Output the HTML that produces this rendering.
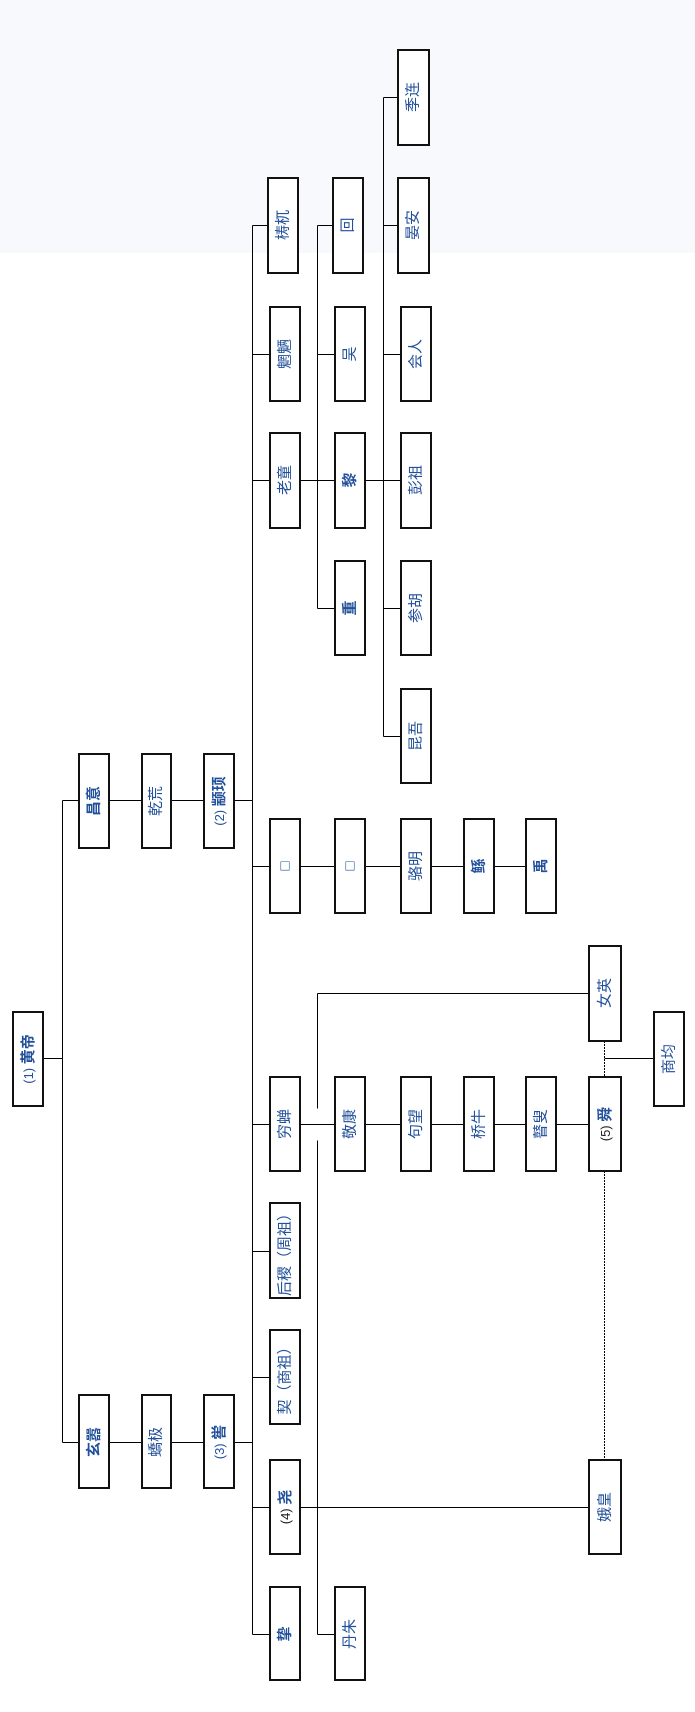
<!DOCTYPE html>
<html><head><meta charset="utf-8"><style>
html,body{margin:0;padding:0;background:#fff}
svg{display:block}
text{font-family:"Liberation Sans","Noto Sans CJK SC",sans-serif;font-size:15px;fill:#22509a;dominant-baseline:central;text-anchor:middle}
.b{font-weight:bold}
</style></head><body>
<svg width="695" height="1712" xmlns="http://www.w3.org/2000/svg">
<rect x="0" y="0" width="695" height="253" fill="#f7f9fc"/>
<g stroke="#000" stroke-width="1" fill="none" transform="translate(0.5,0.5)">
<path d="M43 1058H62M62 800V1442M62 800H79M62 1442H79"/>
<path d="M109 800H142M171 800H204M234 800H252"/>
<path d="M109 1442H142M171 1442H204M234 1442H252"/>
<path d="M252 225V1634"/>
<path d="M252 225H268M252 354H270M252 480H270M252 866H270M252 1124H270M252 1251H270M252 1377H270M252 1507H270M252 1634H270"/>
<path d="M300 480H335M317 225V608M317 225H333M317 354H335M317 608H335"/>
<path d="M365 480H401M383 97V736M383 97H398M383 225H398M383 354H401M383 608H401M383 736H401"/>
<path d="M300 866H335M365 866H401M431 866H464M494 866H526"/>
<path d="M300 1124H335M365 1124H401M431 1124H464M494 1124H526M556 1124H589"/>
<path d="M317 993H589M317 993V1108M317 1140V1634M317 1634H335"/>
<path d="M300 1507H589"/>
<path d="M604 1058H654"/>
</g>
<path d="M604.5 1041V1077M604.5 1171V1460" stroke="#000" stroke-width="1" stroke-dasharray="2,1"/>
<g stroke="#111" stroke-width="2" fill="#fff">
<rect x="13" y="1012" width="30" height="94"/>
<rect x="79" y="754" width="30" height="94"/><rect x="142" y="754" width="29" height="94"/><rect x="204" y="754" width="30" height="94"/>
<rect x="79" y="1395" width="30" height="93"/><rect x="142" y="1395" width="29" height="93"/><rect x="204" y="1395" width="30" height="93"/>
<rect x="268" y="178" width="30" height="95"/><rect x="270" y="307" width="30" height="94"/><rect x="270" y="433" width="30" height="95"/>
<rect x="270" y="819" width="30" height="94"/><rect x="270" y="1077" width="30" height="94"/>
<rect x="270" y="1203" width="30" height="95"/><rect x="270" y="1330" width="30" height="94"/><rect x="270" y="1460" width="30" height="94"/><rect x="270" y="1587" width="30" height="93"/>
<rect x="333" y="178" width="30" height="95"/><rect x="335" y="307" width="30" height="94"/><rect x="335" y="433" width="30" height="95"/><rect x="335" y="561" width="30" height="94"/>
<rect x="335" y="819" width="30" height="94"/><rect x="335" y="1077" width="30" height="94"/><rect x="335" y="1587" width="30" height="93"/>
<rect x="398" y="50" width="31" height="95"/><rect x="398" y="178" width="31" height="95"/><rect x="401" y="307" width="30" height="94"/><rect x="401" y="433" width="30" height="95"/><rect x="401" y="561" width="30" height="94"/><rect x="401" y="689" width="30" height="94"/>
<rect x="401" y="819" width="30" height="94"/><rect x="401" y="1077" width="30" height="94"/>
<rect x="464" y="819" width="30" height="94"/><rect x="464" y="1077" width="30" height="94"/>
<rect x="526" y="819" width="30" height="94"/><rect x="526" y="1077" width="30" height="94"/>
<rect x="589" y="946" width="32" height="95"/><rect x="589" y="1077" width="32" height="94"/><rect x="589" y="1460" width="32" height="94"/>
<rect x="654" y="1012" width="30" height="94"/>
</g>
<g>
<text transform="translate(28,1059) rotate(-90)"><tspan font-size="13">(1) </tspan><tspan class="b">黄帝</tspan></text>
<text class="b" transform="translate(94,801) rotate(-90)">昌意</text>
<text transform="translate(156,801) rotate(-90)">乾荒</text>
<text transform="translate(219,801) rotate(-90)"><tspan font-size="13">(2) </tspan><tspan class="b">颛顼</tspan></text>
<text class="b" transform="translate(94,1442) rotate(-90)">玄嚣</text>
<text transform="translate(156,1442) rotate(-90)">蟜极</text>
<text transform="translate(219,1442) rotate(-90)"><tspan font-size="13">(3) </tspan><tspan class="b">喾</tspan></text>
<text transform="translate(283,225) rotate(-90)">梼杌</text>
<text transform="translate(285,354) rotate(-90)">魍魉</text>
<text transform="translate(285,480) rotate(-90)">老童</text>
<text transform="translate(285,866) rotate(-90)">□</text>
<text transform="translate(285,1124) rotate(-90)">穷蝉</text>
<text transform="translate(285,1251) rotate(-90)">后稷（周祖）</text>
<text transform="translate(285,1377) rotate(-90)">契（商祖）</text>
<text transform="translate(285,1507) rotate(-90)"><tspan font-size="13" fill="#222">(4) </tspan><tspan class="b">尧</tspan></text>
<text class="b" transform="translate(285,1634) rotate(-90)">挚</text>
<text transform="translate(348,225) rotate(-90)">回</text>
<text transform="translate(350,354) rotate(-90)">吴</text>
<text class="b" transform="translate(350,480) rotate(-90)">黎</text>
<text class="b" transform="translate(350,608) rotate(-90)">重</text>
<text transform="translate(350,866) rotate(-90)">□</text>
<text transform="translate(350,1124) rotate(-90)">敬康</text>
<text transform="translate(350,1634) rotate(-90)">丹朱</text>
<text transform="translate(413,97) rotate(-90)">季连</text>
<text transform="translate(413,225) rotate(-90)">晏安</text>
<text transform="translate(416,354) rotate(-90)">会人</text>
<text transform="translate(416,480) rotate(-90)">彭祖</text>
<text transform="translate(416,608) rotate(-90)">参胡</text>
<text transform="translate(416,736) rotate(-90)">昆吾</text>
<text transform="translate(416,866) rotate(-90)">骆明</text>
<text transform="translate(416,1124) rotate(-90)">句望</text>
<text class="b" transform="translate(479,866) rotate(-90)">鲧</text>
<text transform="translate(479,1124) rotate(-90)">桥牛</text>
<text class="b" transform="translate(541,866) rotate(-90)">禹</text>
<text transform="translate(541,1124) rotate(-90)">瞽叟</text>
<text transform="translate(605,993) rotate(-90)">女英</text>
<text transform="translate(605,1124) rotate(-90)"><tspan font-size="13" fill="#222">(5) </tspan><tspan class="b">舜</tspan></text>
<text transform="translate(605,1507) rotate(-90)">娥皇</text>
<text transform="translate(669,1059) rotate(-90)">商均</text>
</g>
</svg>
</body></html>
